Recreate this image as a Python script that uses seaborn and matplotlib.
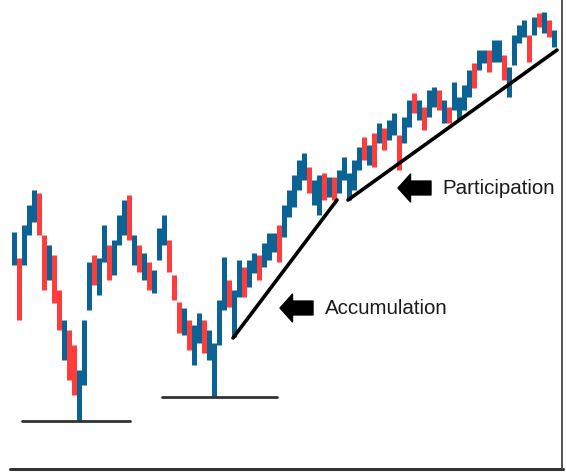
import numpy as np
import pandas as pd
import matplotlib
matplotlib.use("Agg")
import matplotlib.pyplot as plt
import seaborn as sns

# ---- data (price units; one bar per period) ----
highs = [248, 222, 255, 275, 290, 287, 245, 235, 225, 190,
         160, 150, 135, 110, 160, 218, 225, 222, 255, 235,
         240, 265, 280, 285, 245, 235, 227, 218, 210, 252,
         265, 240, 205, 178, 172, 160, 155, 167, 160, 150,
         137, 180, 223, 200, 190, 220, 213, 220, 227, 225,
         237, 247, 247, 255, 275, 290, 305, 320, 327, 313,
         300, 305, 307, 303, 303, 310, 323, 307, 320, 333,
         343, 335, 347, 357, 352, 360, 367, 345, 363, 380,
         387, 380, 373, 390, 393, 390, 380, 373, 398, 383,
         395, 410, 417, 430, 430, 430, 440, 440, 425, 413,
         445, 455, 460, 445, 463, 467, 468, 460, 450]
lows = [215, 160, 215, 245, 258, 245, 190, 200, 177, 150,
        120, 100, 85, 59, 95, 170, 195, 185, 218, 200,
        205, 235, 245, 240, 215, 208, 200, 190, 187, 220,
        235, 208, 180, 147, 145, 130, 115, 137, 127, 120,
        83, 135, 170, 173, 143, 183, 183, 193, 207, 200,
        213, 220, 228, 218, 243, 263, 273, 290, 300, 287,
        275, 265, 280, 283, 280, 287, 300, 280, 290, 310,
        320, 315, 313, 337, 330, 340, 345, 310, 337, 353,
        367, 360, 350, 363, 373, 370, 357, 357, 370, 360,
        370, 383, 392, 410, 417, 408, 418, 418, 400, 383,
        415, 437, 443, 418, 445, 453, 447, 443, 433]
bar_dir = list("brbbbrrbrr" "brrbbbrbbr" "bbbrbrbrbb"
               "brrrbrbbrb" "bbbrbbrbbr" "bbbrbbbbbr"
               "bbrbrbbbbb" "rbrbrbbrbb" "rbrbbrbrbb"
               "bbrbbrbbrb" "bbbrbrbrb")

support_lines = [((1.6, 59), (23.2, 59)), ((29.6, 83), (52.6, 83))]
trend_lines = [((43.8, 142), (64.6, 280)), ((66.8, 280), (108.6, 430))]
labels = ["Accumulation", "Participation"]
label_anchor = [(53.2, 172), (76.8, 292)]   # arrow tip positions (index, price)

BLUE = "#0a6394"
RED = "#ff3c3c"

sns.set_theme(style="white")
plt.rcParams["font.family"] = ["Liberation Sans", "DejaVu Sans"]

fig = plt.figure(figsize=(5.66, 4.72), dpi=100)
ax = fig.add_axes([0, 0, 1, 1])

idx = np.arange(len(highs))
df = pd.DataFrame({"i": idx, "high": highs, "low": lows, "dir": bar_dir})
df["color"] = np.where(df["dir"] == "r", RED, BLUE)

ax.vlines(df["i"], df["low"], df["high"], colors=df["color"], linewidth=3.6)

for (x0, y0), (x1, y1) in support_lines:
    sns.lineplot(x=[x0, x1], y=[y0, y1], ax=ax, color="#333333", linewidth=2.0)
for (x0, y0), (x1, y1) in trend_lines:
    sns.lineplot(x=[x0, x1], y=[y0, y1], ax=ax, color="black", linewidth=2.6)

for lab, (ax_x, ax_y) in zip(labels, label_anchor):
    ax.annotate("", xy=(ax_x, ax_y), xytext=(ax_x + 6.6, ax_y),
                arrowprops=dict(arrowstyle="simple,head_length=0.45,head_width=1.0,tail_width=0.5",
                                color="black", shrinkA=0, shrinkB=0, mutation_scale=20))
    ax.text(ax_x + 8.9, ax_y, lab, fontsize=14.8, color="#1a1a1a",
            va="center", ha="left")

ax.set_xlim(-2.8, 110.4)
ax.set_ylim(8, 480)
ax.set_xticks([])
ax.set_yticks([])
for s in ["top", "left", "bottom", "right"]:
    ax.spines[s].set_visible(False)
ax.axhline(11, xmin=10 / 566, xmax=563 / 566, color="#333333", linewidth=2.2)
ax.axvline(110.4 - 4 / 5, ymin=3 / 472, ymax=1, color="#444444", linewidth=1.3)

fig.savefig("out.png", dpi=100)
